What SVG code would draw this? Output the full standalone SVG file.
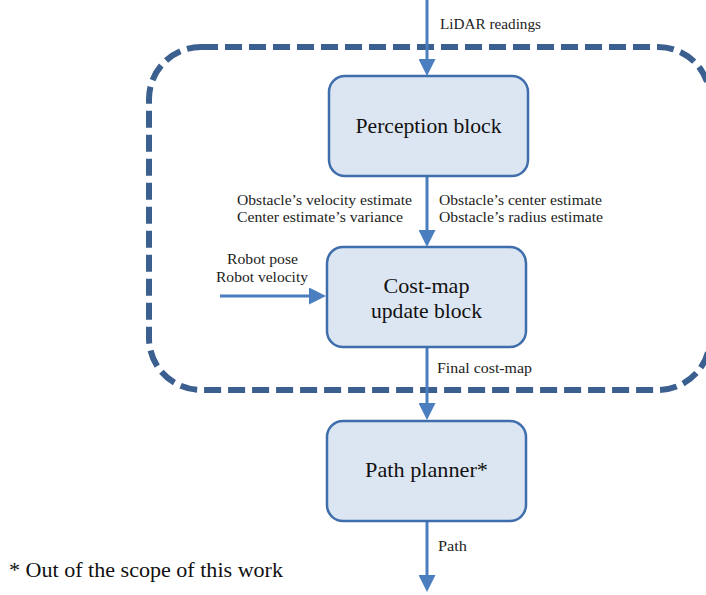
<svg xmlns="http://www.w3.org/2000/svg" width="706" height="595" viewBox="0 0 706 595">
  <style>
    .box { fill: #dce6f2; stroke: #3e6eac; stroke-width: 2.5; }
    .flow { stroke: #4a7ebf; stroke-width: 3; fill: none; }
    .label { font-family: "Liberation Serif", "DejaVu Serif", serif; font-size: 14px; fill: #222; }
    .title { font-family: "Liberation Serif", "DejaVu Serif", serif; font-size: 21px; fill: #111; text-anchor: middle; }
    .note { font-family: "Liberation Serif", "DejaVu Serif", serif; font-size: 20px; fill: #111; }
  </style>
  <defs>
    <marker id="head" viewBox="0 0 17 17" refX="0" refY="8.5" markerWidth="17" markerHeight="17" markerUnits="userSpaceOnUse" orient="auto">
      <path d="M0,0 L17,8.5 L0,17 z" fill="#4a7ebf"/>
    </marker>
  </defs>
  <rect width="706" height="595" fill="#ffffff"/>

  <!-- system boundary (dashed) -->
  <rect id="boundary" x="149" y="47" width="561" height="343" rx="52" ry="52" fill="none" stroke="#3b5f8e" stroke-width="6" stroke-dasharray="17 7"/>

  <!-- connectors -->
  <g id="connectors">
    <line class="flow" x1="427" y1="0" x2="427" y2="59" marker-end="url(#head)"/>
    <line class="flow" x1="427" y1="176" x2="427" y2="230" marker-end="url(#head)"/>
    <line class="flow" x1="220" y1="296" x2="309" y2="296" marker-end="url(#head)"/>
    <line class="flow" x1="427" y1="347" x2="427" y2="403" marker-end="url(#head)"/>
    <line class="flow" x1="427" y1="521" x2="427" y2="575" marker-end="url(#head)"/>
    <text class="label" x="440" y="29" textLength="101" lengthAdjust="spacingAndGlyphs">LiDAR readings</text>
    <text class="label" x="237" y="205" textLength="175" lengthAdjust="spacingAndGlyphs">Obstacle’s velocity estimate</text>
    <text class="label" x="237" y="222" textLength="166" lengthAdjust="spacingAndGlyphs">Center estimate’s variance</text>
    <text class="label" x="439" y="205" textLength="163" lengthAdjust="spacingAndGlyphs">Obstacle’s center estimate</text>
    <text class="label" x="439" y="222" textLength="164" lengthAdjust="spacingAndGlyphs">Obstacle’s radius estimate</text>
    <text class="label" x="227" y="264" textLength="71" lengthAdjust="spacingAndGlyphs">Robot pose</text>
    <text class="label" x="216" y="282" textLength="92" lengthAdjust="spacingAndGlyphs">Robot velocity</text>
    <text class="label" x="437" y="373" textLength="95" lengthAdjust="spacingAndGlyphs">Final cost-map</text>
    <text class="label" x="438" y="551" textLength="29" lengthAdjust="spacingAndGlyphs">Path</text>
  </g>

  <g id="perception">
    <rect class="box" x="329" y="76" width="199" height="100" rx="16" ry="16"/>
    <text class="title" x="428.5" y="133" textLength="146" lengthAdjust="spacingAndGlyphs">Perception block</text>
  </g>

  <g id="costmap">
    <rect class="box" x="327" y="247" width="199" height="100" rx="16" ry="16"/>
    <text class="title" x="426.5" y="293" textLength="86" lengthAdjust="spacingAndGlyphs">Cost-map</text>
    <text class="title" x="426.5" y="318" textLength="111" lengthAdjust="spacingAndGlyphs">update block</text>
  </g>

  <g id="planner">
    <rect class="box" x="327" y="421" width="199" height="100" rx="16" ry="16"/>
    <text class="title" x="426.5" y="477" textLength="123" lengthAdjust="spacingAndGlyphs">Path planner*</text>
  </g>

  <text class="note" x="9" y="577" textLength="274" lengthAdjust="spacingAndGlyphs">* Out of the scope of this work</text>
</svg>
